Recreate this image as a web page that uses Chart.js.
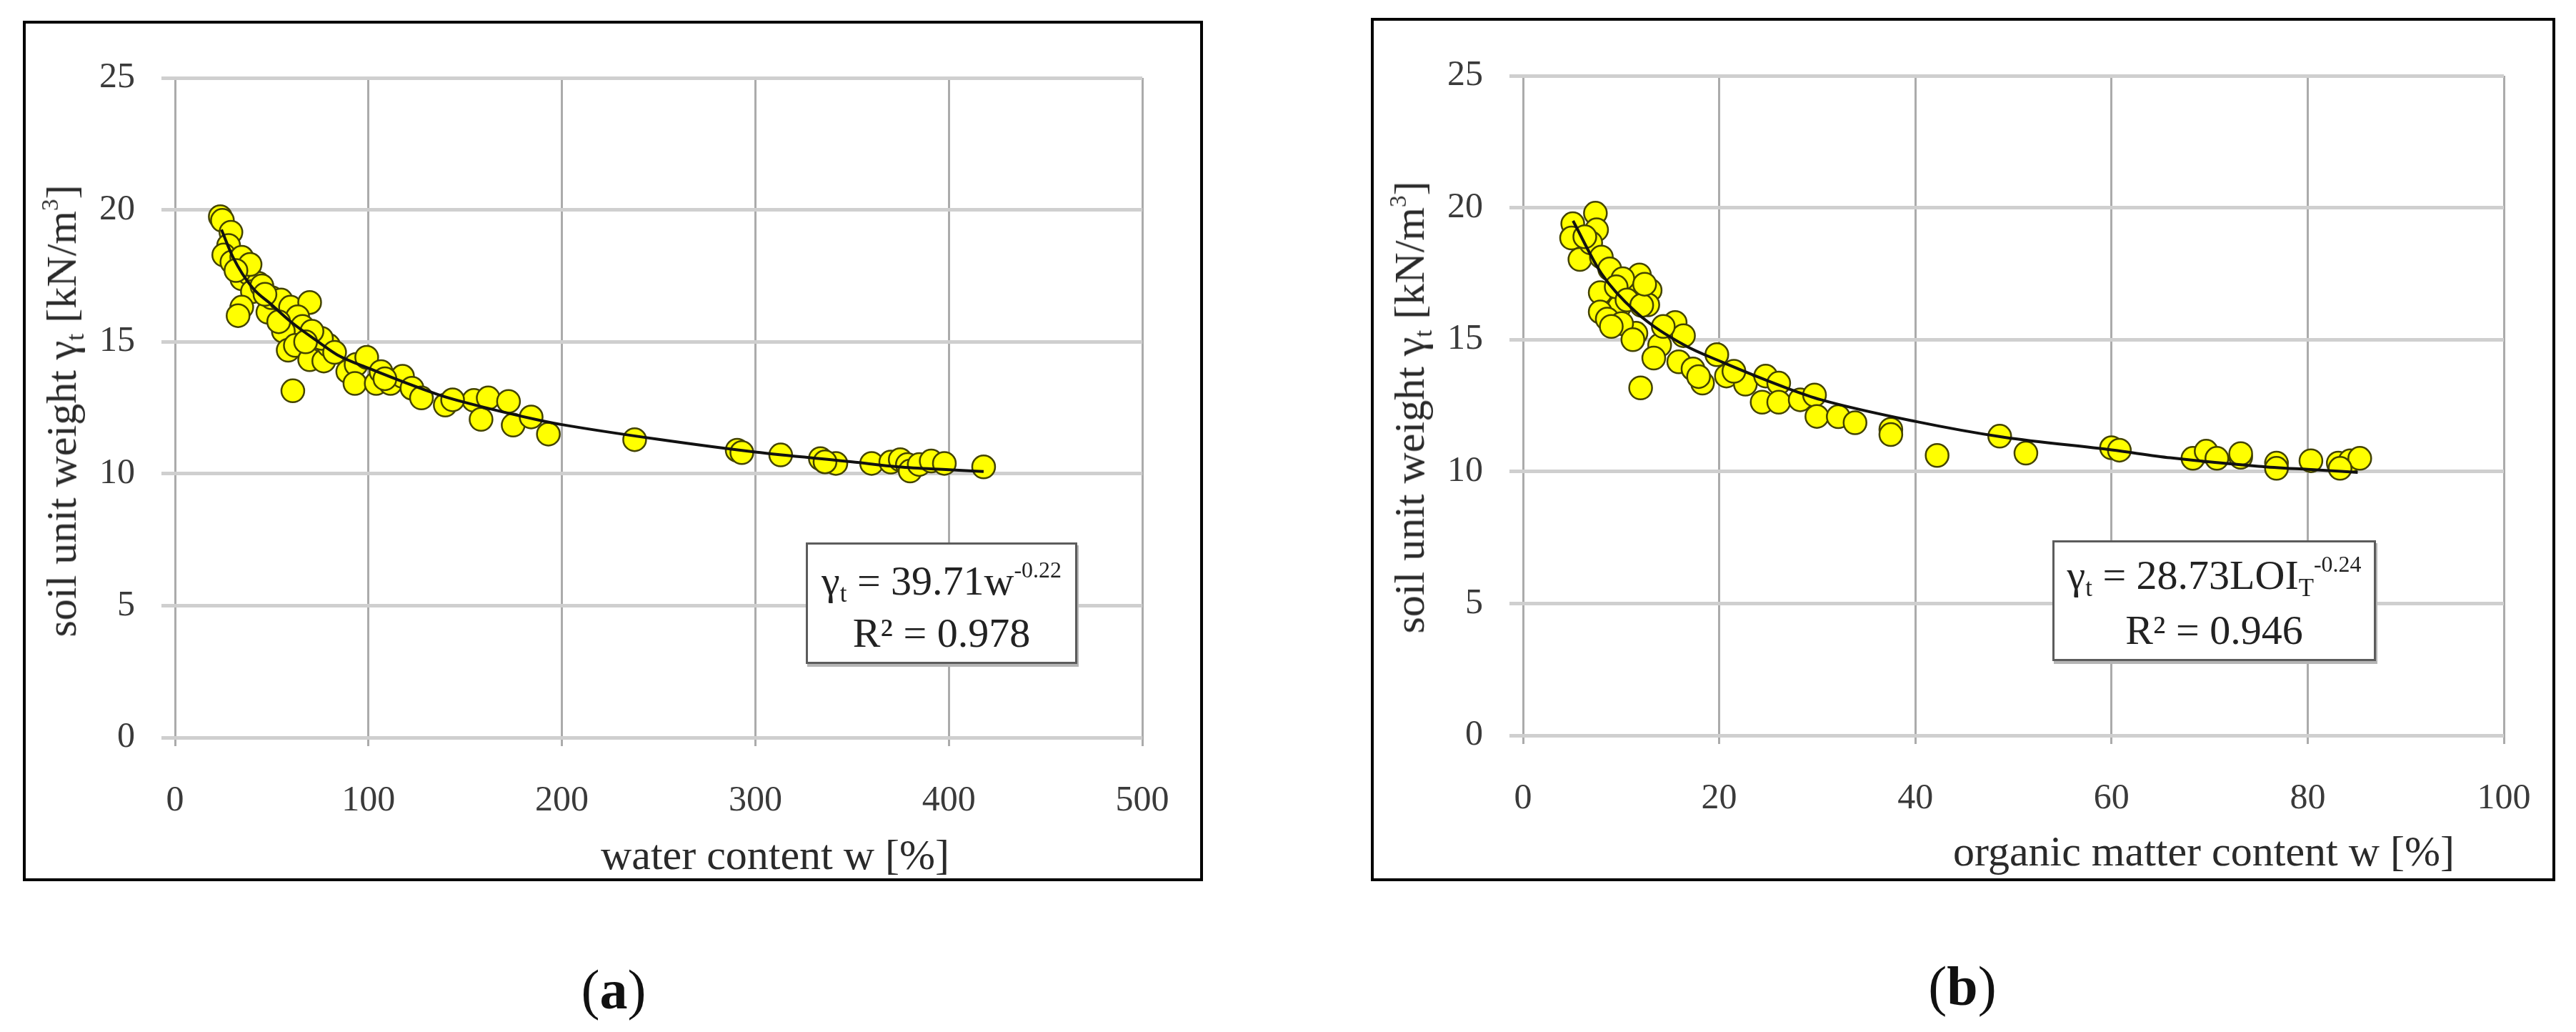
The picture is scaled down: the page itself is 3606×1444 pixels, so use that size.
<!DOCTYPE html>
<html>
<head>
<meta charset="utf-8">
<script src="https://cdn.jsdelivr.net/npm/chart.js@4/dist/chart.umd.min.js"></script>
<style>
  html, body { margin:0; padding:0; background:#fff; }
  body { width:3606px; height:1444px; position:relative; overflow:hidden; font-family:'Liberation Serif', serif; color:#333; }
  .panel { position:absolute; box-sizing:border-box; border:4px solid #000; }
  canvas { position:absolute; }
  .t { position:absolute; white-space:nowrap; line-height:1; transform:translate(-50%,-50%); }
  .axt { font-size:60px; color:#2a2a2a; }
  .yt { transform:translate(-50%,-50%) rotate(-90deg); }
  .lab { font-size:78px; color:#111; }
  .eq { position:absolute; box-sizing:border-box; border:3px solid #5c5c5c; background:#fff; box-shadow:2px 4px 0 #b5b5b5; }
  .eq .t { font-size:58px; color:#222; left:50%; }
  sup.s { font-size:0.55em; vertical-align:0; position:relative; top:-0.75em; }
  sub.s { font-size:0.6em; vertical-align:0; position:relative; top:0.3em; }
</style>
</head>
<body>
<div class="panel" style="left:32px;top:29px;width:1652px;height:1204px;"></div>
<div class="panel" style="left:1919px;top:25px;width:1658px;height:1208px;"></div>
<canvas id="ca" width="1800" height="1300" style="left:0;top:0;"></canvas>
<canvas id="cb" width="1756" height="1300" style="left:1850px;top:0;"></canvas>

<div class="t axt" style="left:1085px;top:1196px;">water content w [%]</div>
<div class="t axt" style="left:3085px;top:1191px;">organic matter content w [%]</div>
<div class="t axt yt" style="left:86px;top:575px;">soil unit weight γ<sub class="s">t</sub> [kN/m<sup class="s">3</sup>]</div>
<div class="t axt yt" style="left:1973px;top:570px;">soil unit weight γ<sub class="s">t</sub> [kN/m<sup class="s">3</sup>]</div>

<div class="eq" style="left:1128px;top:759px;width:380px;height:170px;">
  <div class="t" style="top:51px;">γ<sub class="s">t</sub> = 39.71w<sup class="s">-0.22</sup></div>
  <div class="t" style="top:124px;">R² = 0.978</div>
</div>
<div class="eq" style="left:2873px;top:756px;width:453px;height:169px;">
  <div class="t" style="top:46px;">γ<sub class="s">t</sub> = 28.73LOI<sub class="s">T</sub><sup class="s">-0.24</sup></div>
  <div class="t" style="top:123px;">R² = 0.946</div>
</div>

<div class="t lab" style="left:859px;top:1385px;">(<b>a</b>)</div>
<div class="t lab" style="left:2747px;top:1380px;">(<b>b</b>)</div>

<script>
// ---- data ----
const yTicks = [0, 5, 10, 15, 20, 25];
const xTicksA = [0, 100, 200, 300, 400, 500];
const xTicksB = [0, 20, 40, 60, 80, 100];

const waterContent = [23.4,24.5,28.9,27.7,25.2,29.4,34.5,34.5,38,43.1,40,34.5,32.6,48,49.9,54.8,59.7,69.6,63.4,65.9,56,58.5,62.2,69.6,76.9,79.4,75.7,60.9,89.3,93.6,99.1,93,104,106.5,111.4,117.6,122.5,127.4,139.7,154.5,158.2,161.9,172.4,174.8,184.1,193,237.6,290.6,313.1,333.6,341.6,360.1,370,374.9,378.6,380,384.7,390.9,397.7,418,
  38.8,44.9,53.6,70.8,31.5,46.5,67.5,82.5,108.5,143.5,293,336];
const unitWeightA = [19.74,19.6,19.15,18.65,18.29,18.02,18.2,17.39,17.6,17.21,16.9,16.31,15.99,16.12,16.67,16.58,16.31,16.49,15.95,15.58,15.4,14.68,14.86,14.32,14.27,14.86,15.13,13.14,13.87,14.14,14.41,13.42,13.42,13.87,13.42,13.69,13.24,12.87,12.6,12.78,12.06,12.87,12.74,11.84,12.15,11.5,11.29,10.89,10.71,10.57,10.39,10.39,10.44,10.53,10.35,10.1,10.35,10.48,10.39,10.26,
  17.93,17.12,15.76,15.4,17.7,16.8,15.0,14.6,13.6,12.8,10.8,10.45];

const trendAx = [24,30,40,50,60,75,84,100,136,150,190,200,250,300,350,374,400,418];
const trendAy = [19.25,18.2,17.05,16.4,15.75,14.95,14.5,14.0,13.0,12.7,12.0,11.86,11.3,10.82,10.45,10.26,10.15,10.08];

const organicContent = [7.38,7.5,5.07,4.95,5.8,6.9,7.99,8.84,11.87,12.96,7.87,11.02,9.81,7.87,8.59,12.72,15.51,11.51,10.05,13.93,13.33,16.36,15.88,17.33,18.3,19.76,11.99,20.74,22.67,24.74,26.07,24.38,26.07,28.26,29.72,29.96,10.17,32.14,33.85,37.5,37.5,42.22,48.6,51.27,60,60.8,68.3,69.65,70.74,73.17,73.17,76.82,76.82,80.33,83.12,84.34,85.31,83.3,
  9.5,10.6,12.1,9.0,11.2,14.3,12.4,6.3,17.9,21.5];
const unitWeightB = [19.79,19.16,19.39,18.85,18.04,18.67,18.13,17.68,17.45,16.87,16.78,16.69,16.24,16.05,15.78,16.32,15.65,15.24,15.61,14.79,14.3,15.15,14.16,13.89,13.35,14.43,13.17,13.62,13.31,13.62,13.35,12.63,12.63,12.72,12.9,12.09,17.31,12.08,11.85,11.6,11.4,10.61,11.34,10.7,10.9,10.81,10.5,10.77,10.5,10.54,10.68,10.32,10.12,10.41,10.32,10.41,10.5,10.12,
  17.0,16.5,16.3,15.5,15.0,15.5,17.1,18.9,13.6,13.8];

const trendBx = [5.1,8,11.5,16.4,20.3,27,30.4,40,49,60,66,75,80,85.1];
const trendBy = [19.5,17.5,16.05,14.8,14.15,13.15,12.72,11.9,11.3,10.82,10.52,10.2,10.08,9.97];

// ---- helpers ----
const zip = (xs, ys) => xs.map((x, i) => ({x: x, y: ys[i]}));
const FONT = 'Liberation Serif';

function makeChart(id, xs, ys, tx, ty, xTicks, geom) {
  const ctx = document.getElementById(id).getContext('2d');
  return new Chart(ctx, {
    type: 'scatter',
    data: {
      datasets: [
        {
          type: 'line',
          data: zip(tx, ty),
          showLine: true,
          borderColor: '#111',
          borderWidth: 4,
          pointRadius: 0,
          fill: false,
          cubicInterpolationMode: 'monotone',
          order: 0
        },
        {
          data: zip(xs, ys),
          backgroundColor: '#ffff00',
          borderColor: '#434300',
          borderWidth: 2.5,
          pointRadius: 16,
          order: 1
        }
      ]
    },
    options: {
      responsive: false,
      animation: false,
      devicePixelRatio: 1,
      layout: { padding: { left: 0, top: geom.top, right: geom.right, bottom: geom.bottom } },
      plugins: { legend: { display: false }, tooltip: { enabled: false } },
      scales: {
        x: {
          type: 'linear',
          min: xTicks[0], max: xTicks[xTicks.length - 1],
          afterBuildTicks: s => { s.ticks = xTicks.map(v => ({value: v})); },
          afterFit: s => { s.height = 150; },
          grid: { color: '#ababab', lineWidth: 3, tickLength: 12, tickColor: '#ababab' },
          border: { display: false },
          ticks: { font: { family: FONT, size: 50 }, color: '#3a3a3a', padding: 47, maxRotation: 0 }
        },
        y: {
          type: 'linear',
          min: yTicks[0], max: yTicks[yTicks.length - 1],
          afterBuildTicks: s => { s.ticks = yTicks.map(v => ({value: v})); },
          afterFit: s => { s.width = geom.yw; },
          grid: { color: '#cfcfcf', lineWidth: 5, tickLength: 19, tickColor: '#cfcfcf' },
          border: { display: false },
          ticks: { font: { family: FONT, size: 50 }, color: '#3a3a3a', padding: 37 }
        }
      }
    }
  });
}

makeChart('ca', waterContent, unitWeightA, trendAx, trendAy, xTicksA,
  { top: 109, right: 201, bottom: 1300 - 1032 - 150, yw: 245 });
makeChart('cb', organicContent, unitWeightB, trendBx, trendBy, xTicksB,
  { top: 106, right: 101, bottom: 1300 - 1029 - 150, yw: 282 });
</script>
</body>
</html>
